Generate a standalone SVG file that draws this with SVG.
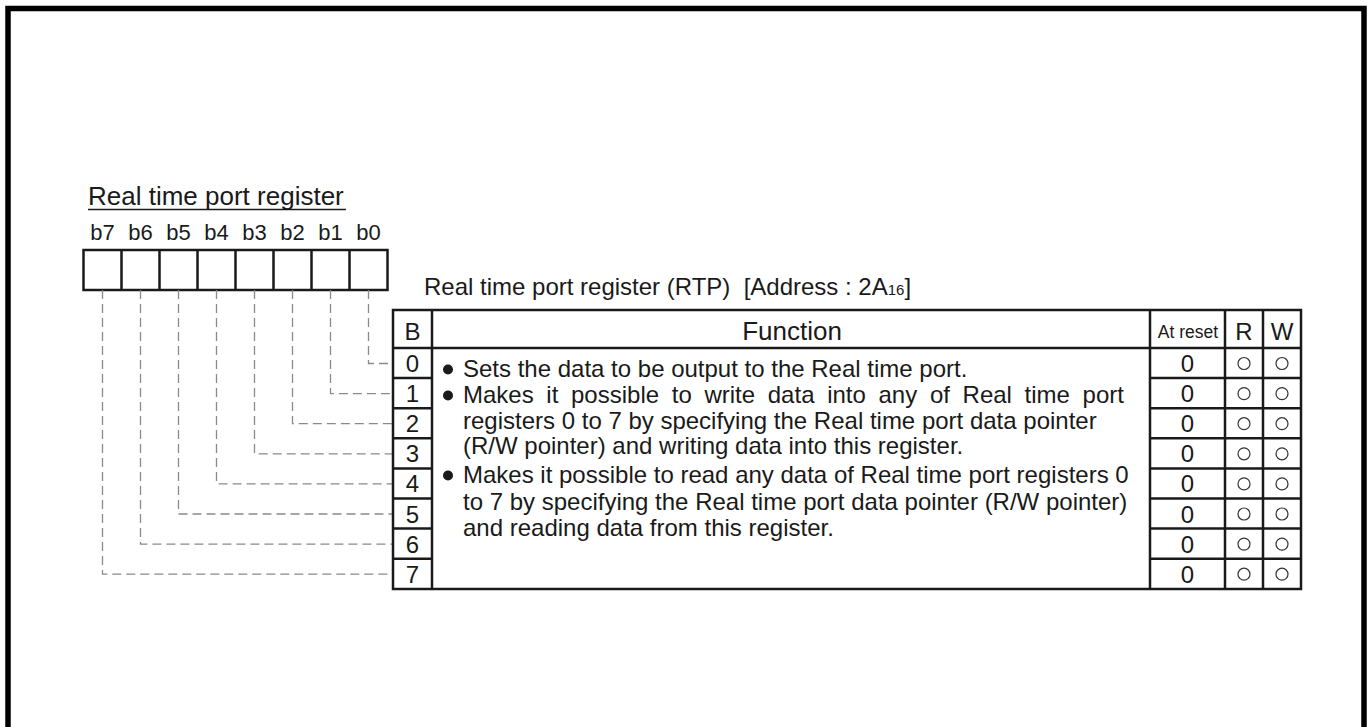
<svg xmlns="http://www.w3.org/2000/svg" width="1369" height="727" viewBox="0 0 1369 727">
<style>
.t{font-family:"Liberation Sans",Arial,sans-serif;fill:#1a1a1a}
.ln{stroke:#1a1a1a;stroke-width:2.5;fill:none}
.dash{stroke:#8a8a8a;stroke-width:1.3;fill:none;stroke-dasharray:9 5}
.c{fill:none;stroke:#333;stroke-width:1.2}
</style>
<rect x="8" y="8.5" width="1356" height="800" fill="#fff" stroke="#000" stroke-width="5.5"/>

<g id="title">
<text class="t" x="88" y="205" font-size="26">Real time port register</text>
<line x1="88" y1="209.5" x2="346" y2="209.5" stroke="#1a1a1a" stroke-width="1.5"/>
</g>

<g id="register" font-size="22" text-anchor="middle">
<text class="t" x="102.5" y="240">b7</text>
<text class="t" x="140.5" y="240">b6</text>
<text class="t" x="178.5" y="240">b5</text>
<text class="t" x="216.5" y="240">b4</text>
<text class="t" x="254.5" y="240">b3</text>
<text class="t" x="292.5" y="240">b2</text>
<text class="t" x="330.5" y="240">b1</text>
<text class="t" x="368.5" y="240">b0</text>
<rect class="ln" x="83.5" y="250" width="304" height="40"/>
<path class="ln" d="M121.5 250V290M159.5 250V290M197.5 250V290M235.5 250V290M273.5 250V290M311.5 250V290M349.5 250V290"/>
</g>

<g id="connectors">
<path class="dash" d="M368.5 290V363.5H393"/>
<path class="dash" d="M330.5 290V393.6H393"/>
<path class="dash" d="M292.5 290V423.7H393"/>
<path class="dash" d="M254.5 290V453.8H393"/>
<path class="dash" d="M216.5 290V483.9H393"/>
<path class="dash" d="M178.5 290V514H393"/>
<path class="dash" d="M140.5 290V544.1H393"/>
<path class="dash" d="M102.5 290V574.2H393"/>
</g>

<g id="table-caption">
<text class="t" x="424" y="295" font-size="24">Real time port register (RTP)&#160; [Address : 2A<tspan font-size="15">16</tspan>]</text>
</g>

<g id="table">
<rect class="ln" x="393" y="310" width="908" height="279"/>
<path class="ln" d="M393 348H1301M432 310V589M1150 310V589M1225 310V589M1263 310V589"/>
<path class="ln" d="M393 378.1H432M393 408.2H432M393 438.3H432M393 468.4H432M393 498.5H432M393 528.6H432M393 558.7H432"/>
<path class="ln" d="M1150 378.1H1301M1150 408.2H1301M1150 438.3H1301M1150 468.4H1301M1150 498.5H1301M1150 528.6H1301M1150 558.7H1301"/>
<g text-anchor="middle">
<text class="t" x="412.5" y="340" font-size="24">B</text>
<text class="t" x="792" y="340" font-size="26">Function</text>
<text class="t" x="1188" y="338" font-size="17.5">At reset</text>
<text class="t" x="1244" y="340" font-size="24">R</text>
<text class="t" x="1282" y="340" font-size="24">W</text>
</g>
<g text-anchor="middle" font-size="24">
<text class="t" x="412.5" y="372">0</text>
<text class="t" x="412.5" y="402.1">1</text>
<text class="t" x="412.5" y="432.2">2</text>
<text class="t" x="412.5" y="462.3">3</text>
<text class="t" x="412.5" y="492.4">4</text>
<text class="t" x="412.5" y="522.5">5</text>
<text class="t" x="412.5" y="552.6">6</text>
<text class="t" x="412.5" y="582.7">7</text>
<text class="t" x="1187.5" y="372">0</text>
<text class="t" x="1187.5" y="402.1">0</text>
<text class="t" x="1187.5" y="432.2">0</text>
<text class="t" x="1187.5" y="462.3">0</text>
<text class="t" x="1187.5" y="492.4">0</text>
<text class="t" x="1187.5" y="522.5">0</text>
<text class="t" x="1187.5" y="552.6">0</text>
<text class="t" x="1187.5" y="582.7">0</text>
</g>
<g>
<circle class="c" cx="1244" cy="363.5" r="6"/><circle class="c" cx="1282" cy="363.5" r="6"/>
<circle class="c" cx="1244" cy="393.6" r="6"/><circle class="c" cx="1282" cy="393.6" r="6"/>
<circle class="c" cx="1244" cy="423.7" r="6"/><circle class="c" cx="1282" cy="423.7" r="6"/>
<circle class="c" cx="1244" cy="453.8" r="6"/><circle class="c" cx="1282" cy="453.8" r="6"/>
<circle class="c" cx="1244" cy="483.9" r="6"/><circle class="c" cx="1282" cy="483.9" r="6"/>
<circle class="c" cx="1244" cy="514" r="6"/><circle class="c" cx="1282" cy="514" r="6"/>
<circle class="c" cx="1244" cy="544.1" r="6"/><circle class="c" cx="1282" cy="544.1" r="6"/>
<circle class="c" cx="1244" cy="574.2" r="6"/><circle class="c" cx="1282" cy="574.2" r="6"/>
</g>
<g id="function-text" font-size="24">
<circle cx="448" cy="369.5" r="5" fill="#1a1a1a"/>
<circle cx="448" cy="395.5" r="5" fill="#1a1a1a"/>
<circle cx="448" cy="475.5" r="5" fill="#1a1a1a"/>
<text class="t" x="463" y="377">Sets the data to be output to the Real time port.</text>
<text class="t" x="463" y="403" word-spacing="6">Makes it possible to write data into any of Real time port</text>
<text class="t" x="463" y="428.5">registers 0 to 7 by specifying the Real time port data pointer</text>
<text class="t" x="463" y="454">(R/W pointer) and writing data into this register.</text>
<text class="t" x="463" y="483">Makes it possible to read any data of Real time port registers 0</text>
<text class="t" x="463" y="509.5">to 7 by specifying the Real time port data pointer (R/W pointer)</text>
<text class="t" x="463" y="536">and reading data from this register.</text>
</g>
</g>
</svg>
